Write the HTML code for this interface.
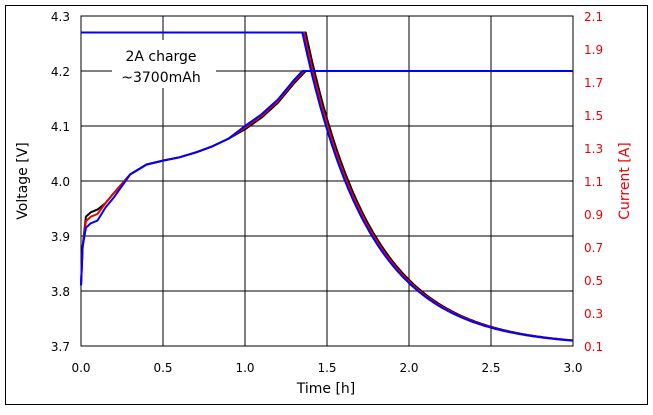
<!DOCTYPE html>
<html><head><meta charset="utf-8"><style>
body{margin:0;background:#fff;}
svg text{font-family:"DejaVu Sans","Liberation Sans",sans-serif;}
</style></head><body>
<svg id="s" width="653" height="410" viewBox="0 0 653 410" xmlns="http://www.w3.org/2000/svg">
<rect x="5.5" y="5.5" width="642" height="399" fill="#fff" stroke="#000" stroke-width="1"/>
<g id="grid" stroke="#000" stroke-width="1"></g>
<rect x="81" y="16" width="492" height="330" fill="none" stroke="#000" stroke-width="1"/>
<rect x="112" y="40" width="104" height="48" fill="#fff"/>
<text x="161" y="61" font-size="14" text-anchor="middle">2A charge</text>
<text x="161" y="82" font-size="14" text-anchor="middle">~3700mAh</text>
<g id="lines" fill="none" stroke-width="2" stroke-linejoin="round"></g>
<g id="lab" font-size="12"></g>
<text x="326" y="393" font-size="14" text-anchor="middle">Time [h]</text>
<text transform="translate(27,181) rotate(-90)" font-size="14" text-anchor="middle">Voltage [V]</text>
<text transform="translate(629,181) rotate(-90)" font-size="14" text-anchor="middle" fill="#e00">Current [A]</text>
</svg>
<script>
const X=t=>81+t*164, YV=v=>16+(4.3-v)*550, YI=i=>16+(2.1-i)*165;
let g='',l='';
for(let k=1;k<6;k++){g+=`<line x1="${X(k*0.5)}" y1="16" x2="${X(k*0.5)}" y2="346"/>`;}
for(let k=1;k<6;k++){g+=`<line x1="81" y1="${16+k*55}" x2="573" y2="${16+k*55}"/>`;}
document.getElementById('grid').innerHTML=g;
for(let k=0;k<=6;k++){l+=`<text x="${X(k*0.5)}" y="372" text-anchor="middle">${(k*0.5).toFixed(1)}</text>`;
 l+=`<text x="70" y="${16+k*55+5}" text-anchor="end">${(4.3-k*0.1).toFixed(1)}</text>`;}
for(let k=0;k<=10;k++){l+=`<text x="584" y="${16+k*33+5}" fill="#e00">${(2.1-k*0.2).toFixed(1)}</text>`;}
document.getElementById('lab').innerHTML=l;
function vpath(pts,ts){let d='M'+X(0)+','+YI(2.0)+' L'+X(ts)+','+YI(2.0);
 for(let t=ts;t<=3.0001;t+=0.01){let i=0.1+1.9*Math.exp(-(t-ts)/0.405); d+=' L'+X(t).toFixed(1)+','+YI(i).toFixed(1);}
 let v='M'+pts.map(p=>X(p[0]).toFixed(1)+','+YV(p[1]).toFixed(1)).join(' L')+' L'+X(3)+','+YV(4.2);
 return [d,v];}
const base=[[0,3.81],[0.01,3.88],[0.03,3.935],[0.06,3.943],[0.1,3.948],[0.15,3.96],[0.2,3.978],[0.3,4.012],[0.4,4.03],[0.5,4.037],[0.6,4.043],[0.7,4.052],[0.8,4.063],[0.9,4.077],[1.0,4.094],[1.1,4.115],[1.2,4.142],[1.3,4.178],[1.37,4.2]];
const red=base.map(p=>[p[0],p[1]+(p[0]>0.02&&p[0]<0.15?-0.008:0)+(p[0]>0.9?0.003:0)]);red[red.length-1]=[1.36,4.2];
const blue=base.map(p=>[p[0],p[1]+(p[0]>0.02&&p[0]<0.3?(p[0]<0.15?-0.02:-0.008):0)+(p[0]>0.9?0.006:0)]);blue[blue.length-1]=[1.35,4.2];
let s='';
[[base,1.37,'#000'],[red,1.36,'#e00'],[blue,1.35,'#00f']].forEach(a=>{let p=vpath(a[0],a[1]);s+=`<path d="${p[0]}" stroke="${a[2]}"/><path d="${p[1]}" stroke="${a[2]}"/>`;});
document.getElementById('lines').innerHTML=s;
</script>
</body></html>
